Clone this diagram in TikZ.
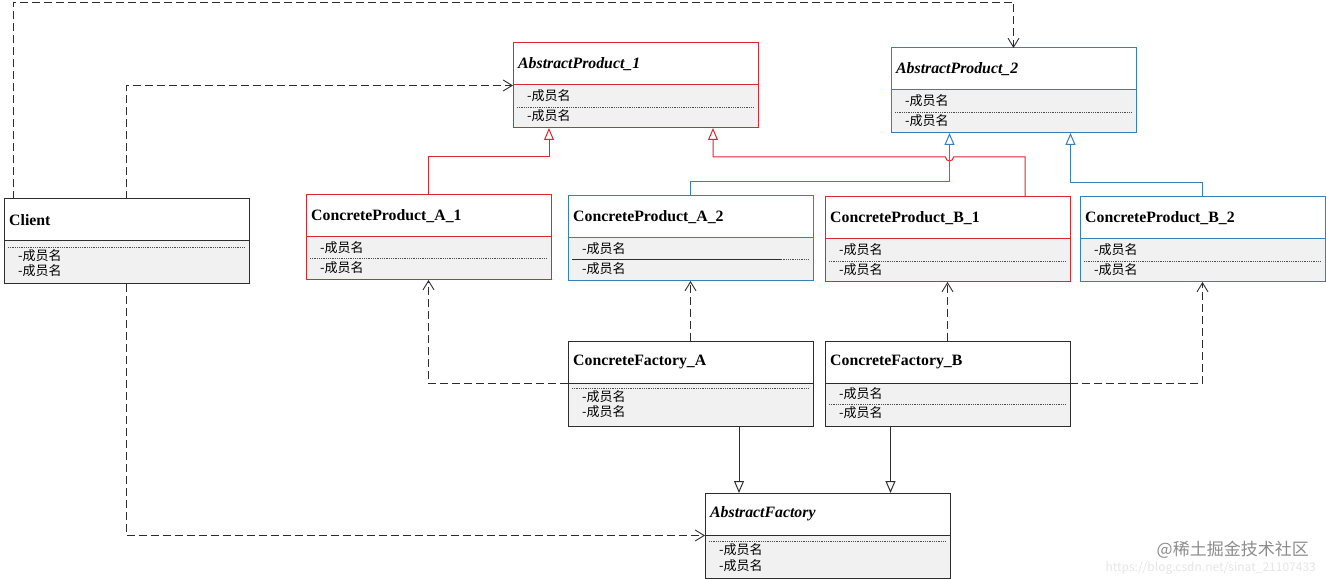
\documentclass[tikz,border=0pt]{standalone}
\usepackage{fontspec}
\setmainfont{Liberation Serif}
\newfontfamily\cjk{Noto Sans CJK SC}
\usetikzlibrary{arrows.meta}

\definecolor{redc}{RGB}{222,38,46}
\definecolor{bluec}{RGB}{52,128,190}
\definecolor{dark}{RGB}{45,45,45}
\definecolor{boxgray}{RGB}{241,241,241}

\tikzset{
  classbox/.style={rectangle, anchor=north west, minimum width=245pt, minimum height=85pt,
    inner sep=0pt, outer sep=0pt, line width=1pt, fill=white,
    path picture={\fill[boxgray] ([yshift=-42pt]path picture bounding box.north west)
      rectangle (path picture bounding box.south east);}},
  classname/.style={anchor=west, inner sep=0pt, font=\fontsize{15.8}{18}\selectfont\bfseries},
  member/.style={anchor=west, inner sep=0pt, font=\cjk\fontsize{13}{15}\selectfont},
  sepline/.style={densely dotted, draw=black!70, line width=0.8pt},
  dep/.style={dash pattern=on 8pt off 4pt, line width=0.9pt, draw=dark,
    -{Straight Barb[length=9pt,width=11pt]}},
  inh/.style={line width=1pt, -{Triangle[open,length=12pt,width=10pt]}},
}

% name, colour, x, y, title, dotted line, member 1, member 2
\newcommand{\umlclass}[8]{%
  \node[classbox, draw=#2] (#1) at (#3,#4) {};
  \draw[#2, line width=1pt] ([yshift=-42]#1.north west) -- ([yshift=-42]#1.north east);
  \node[classname] at ([xshift=5,yshift=-21]#1.north west) {#5};
  \draw[sepline] ([xshift=4,yshift=-#6]#1.north west) -- ([xshift=-4,yshift=-#6]#1.north east);
  \node[member] at ([xshift=14,yshift=-#7]#1.north west) {-成员名};
  \node[member] at ([xshift=14,yshift=-#8]#1.north west) {-成员名};
}

\begin{document}
\begin{tikzpicture}[x=1pt,y=-1pt]
\useasboundingbox (0,0) rectangle (1326,580);

% classes
\umlclass{client}{dark}{4}{199}{Client}{48}{57}{72}
\umlclass{ap1}{redc}{513}{43}{\itshape AbstractProduct\_1}{64}{53}{73}
\umlclass{ap2}{bluec}{891}{48}{\itshape AbstractProduct\_2}{64}{53}{73}
\umlclass{cpa1}{redc}{306}{195}{ConcreteProduct\_A\_1}{63}{53}{73}
\umlclass{cpa2}{bluec}{568}{196}{ConcreteProduct\_A\_2}{63}{53}{73}
\umlclass{cpb1}{redc}{825}{197}{ConcreteProduct\_B\_1}{64}{53}{73}
\umlclass{cpb2}{bluec}{1080}{197}{ConcreteProduct\_B\_2}{64}{53}{73}
\umlclass{cfa}{dark}{568}{341}{ConcreteFactory\_A}{47}{56}{71}
\umlclass{cfb}{dark}{825}{341}{ConcreteFactory\_B}{63}{53}{72}
\umlclass{af}{dark}{705}{493}{\itshape AbstractFactory}{48}{57}{73}
\draw[dark, line width=0.8pt] ([xshift=4,yshift=-63]cpa2.north west) -- ([xshift=213,yshift=-63]cpa2.north west);

% client dependencies
\draw[dep] ([xshift=9]client.north west) |- ([yshift=46]ap2.north) -- (ap2.north);
\draw[dep] (client.north) |- (ap1.west);
\draw[dep] (client.south) |- (af.west);

% product hierarchy
\draw[inh, redc] (cpa1.north) |- ([xshift=-86.5,yshift=-29]ap1.south) -- ([xshift=-86.5]ap1.south);
\draw[inh, redc] ([xshift=-45]cpb1.north east) |- ([xshift=-60,yshift=-24]ap2.south)
  arc[start angle=0, end angle=180, radius=4] -- ([xshift=77.5,yshift=-29]ap1.south) -- ([xshift=77.5]ap1.south);
\draw[inh, bluec] (cpa2.north) |- ([xshift=-64,yshift=-49]ap2.south) -- ([xshift=-64]ap2.south);
\draw[inh, bluec] (cpb2.north) |- ([xshift=57,yshift=-50]ap2.south) -- ([xshift=57]ap2.south);

% factories create products
\draw[dep] (cfa.north) -- (cpa2.south);
\draw[dep] (cfa.west) -| (cpa1.south);
\draw[dep] (cfb.north) -- (cpb1.south);
\draw[dep] (cfb.east) -| (cpb2.south);

% factories implement AbstractFactory
\coordinate (fa) at ([xshift=48.5]cfa.south);
\coordinate (fb) at ([xshift=-57]cfb.south);
\draw[inh, dark] (fa) -- (fa |- af.north);
\draw[inh, dark] (fb) -- (fb |- af.north);

% watermark
\node[anchor=east, inner sep=0pt, text=black!45, font=\cjk\fontsize{17}{20}\selectfont] (wm) at (1309,550) {@稀土掘金技术社区};
\node[anchor=north east, inner sep=0pt, text=black!10, font=\cjk\fontsize{12}{14}\selectfont] (url) at (1316,562) {https://blog.csdn.net/sinat\_21107433};
\end{tikzpicture}
\end{document}
